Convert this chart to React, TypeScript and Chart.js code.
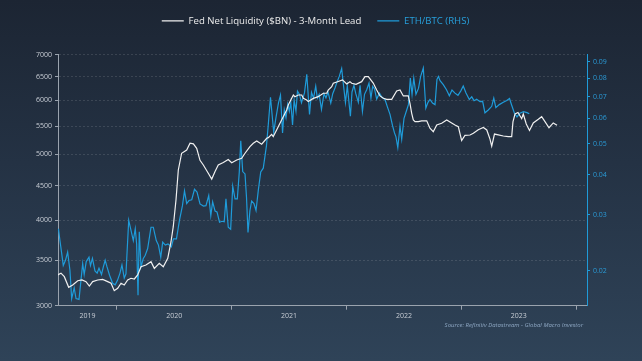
import { useEffect, useRef } from 'react';
import { Chart, registerables } from 'chart.js';

Chart.register(...registerables);

// ---------- DATA ----------
const seriesNames = ['Fed Net Liquidity ($BN) - 3-Month Lead', 'ETH/BTC (RHS)'];
const sourceText = 'Source: Refinitiv Datastream - Global Macro Investor';

const fedYears = [
  2019.484, 2019.513, 2019.542, 2019.580, 2019.615, 2019.659, 2019.696, 2019.731, 2019.760, 2019.789,
  2019.833, 2019.876, 2019.920, 2019.949, 2019.977, 2020.007, 2020.036, 2020.064, 2020.094, 2020.123,
  2020.152, 2020.181, 2020.210, 2020.253, 2020.297, 2020.326, 2020.369, 2020.404, 2020.443, 2020.471,
  2020.491, 2020.515, 2020.535, 2020.564, 2020.608, 2020.637, 2020.666, 2020.695, 2020.724, 2020.753,
  2020.796, 2020.826, 2020.855, 2020.883, 2020.927, 2020.970, 2021.000, 2021.044, 2021.087, 2021.116,
  2021.159, 2021.188, 2021.218, 2021.261, 2021.305, 2021.319, 2021.348, 2021.362, 2021.399, 2021.449,
  2021.479, 2021.493, 2021.537, 2021.551, 2021.580, 2021.610, 2021.624, 2021.653, 2021.667, 2021.711,
  2021.754, 2021.798, 2021.828, 2021.841, 2021.871, 2021.885, 2021.922, 2021.965, 2022.002, 2022.030,
  2022.045, 2022.083, 2022.132, 2022.161, 2022.190, 2022.233, 2022.263, 2022.292, 2022.321, 2022.350,
  2022.394, 2022.437, 2022.466, 2022.495, 2022.538, 2022.553, 2022.568, 2022.582, 2022.597, 2022.625,
  2022.655, 2022.699, 2022.727, 2022.756, 2022.786, 2022.829, 2022.873, 2022.916, 2022.945, 2022.974,
  2023.003, 2023.032, 2023.076, 2023.105, 2023.148, 2023.192, 2023.222, 2023.250, 2023.265, 2023.289,
  2023.322, 2023.366, 2023.409, 2023.439, 2023.450, 2023.468, 2023.494, 2023.526, 2023.540, 2023.566,
  2023.594, 2023.627, 2023.671, 2023.700, 2023.729, 2023.764, 2023.801, 2023.834,
];
const fedValues = [
  3328, 3348, 3309, 3192, 3217, 3264, 3272, 3254, 3206, 3254,
  3272, 3279, 3254, 3236, 3156, 3182, 3236, 3217, 3272, 3291,
  3283, 3328, 3422, 3442, 3480, 3403, 3462, 3422, 3521, 3720,
  3917, 4290, 4743, 5019, 5075, 5191, 5180, 5104, 4900, 4824,
  4691, 4600, 4720, 4824, 4865, 4915, 4860, 4906, 4935, 5019,
  5132, 5191, 5230, 5175, 5279, 5290, 5350, 5310, 5461, 5679,
  5809, 5908, 6110, 6075, 6110, 6110, 6043, 6008, 5975, 6040,
  6075, 6146, 6146, 6214, 6284, 6357, 6390, 6430, 6340, 6391,
  6357, 6335, 6391, 6500, 6500, 6360, 6215, 6090, 6043, 6020,
  6020, 6195, 6214, 6090, 6090, 5941, 5744, 5616, 5584, 5584,
  5600, 5600, 5461, 5398, 5522, 5554, 5616, 5560, 5522, 5490,
  5240, 5330, 5338, 5369, 5435, 5475, 5429, 5265, 5140, 5355,
  5340, 5320, 5310, 5308, 5580, 5730, 5760, 5640, 5730, 5540,
  5420, 5560, 5630, 5679, 5584, 5470, 5560, 5515,
];

const ethYears = [
  2019.491, 2019.504, 2019.519, 2019.533, 2019.552, 2019.571, 2019.591, 2019.606, 2019.628, 2019.644,
  2019.670, 2019.687, 2019.702, 2019.715, 2019.733, 2019.757, 2019.770, 2019.787, 2019.809, 2019.828,
  2019.844, 2019.866, 2019.882, 2019.898, 2019.914, 2019.936, 2019.963, 2019.985, 2020.005, 2020.027,
  2020.044, 2020.064, 2020.079, 2020.103, 2020.123, 2020.143, 2020.160, 2020.172, 2020.184, 2020.195,
  2020.210, 2020.230, 2020.247, 2020.268, 2020.297, 2020.317, 2020.343, 2020.362, 2020.382, 2020.399,
  2020.422, 2020.445, 2020.474, 2020.493, 2020.519, 2020.545, 2020.571, 2020.589, 2020.608, 2020.628,
  2020.652, 2020.676, 2020.698, 2020.724, 2020.754, 2020.776, 2020.800, 2020.818, 2020.834, 2020.855,
  2020.872, 2020.894, 2020.916, 2020.935, 2020.950, 2020.970, 2020.991, 2021.009, 2021.029, 2021.049,
  2021.066, 2021.079, 2021.096, 2021.116, 2021.129, 2021.142, 2021.159, 2021.174, 2021.194, 2021.212,
  2021.232, 2021.253, 2021.275, 2021.303, 2021.319, 2021.338, 2021.366, 2021.386, 2021.408, 2021.425,
  2021.443, 2021.458, 2021.473, 2021.488, 2021.502, 2021.515, 2021.530, 2021.544, 2021.560, 2021.573,
  2021.591, 2021.608, 2021.634, 2021.654, 2021.678, 2021.695, 2021.713, 2021.732, 2021.746, 2021.762,
  2021.782, 2021.804, 2021.821, 2021.839, 2021.863, 2021.880, 2021.900, 2021.917, 2021.937, 2021.958,
  2021.972, 2021.991, 2022.007, 2022.034, 2022.048, 2022.065, 2022.081, 2022.103, 2022.118, 2022.139,
  2022.157, 2022.176, 2022.196, 2022.213, 2022.228, 2022.244, 2022.263, 2022.287, 2022.309, 2022.335,
  2022.357, 2022.379, 2022.401, 2022.418, 2022.431, 2022.447, 2022.466, 2022.481, 2022.501, 2022.521,
  2022.540, 2022.556, 2022.571, 2022.586, 2022.605, 2022.627, 2022.646, 2022.669, 2022.691, 2022.710,
  2022.727, 2022.749, 2022.771, 2022.788, 2022.801, 2022.815, 2022.843, 2022.871, 2022.896, 2022.919,
  2022.945, 2022.971, 2022.996, 2023.017, 2023.041, 2023.070, 2023.091, 2023.111, 2023.134, 2023.163,
  2023.186, 2023.206, 2023.235, 2023.265, 2023.283, 2023.301, 2023.331, 2023.366, 2023.396, 2023.420,
  2023.439, 2023.463, 2023.485, 2023.510, 2023.542, 2023.572, 2023.592,
];
const ethValues = [
  0.0271, 0.0249, 0.0227, 0.0208, 0.0216, 0.0229, 0.0201, 0.0164, 0.0177, 0.0164,
  0.0163, 0.0187, 0.0211, 0.0195, 0.0214, 0.0221, 0.0208, 0.0219, 0.0200, 0.0197,
  0.0204, 0.0195, 0.0206, 0.0216, 0.0206, 0.0194, 0.0183, 0.0181, 0.0187, 0.0197,
  0.0209, 0.0190, 0.0196, 0.0288, 0.0268, 0.0249, 0.0271, 0.0243, 0.0168, 0.0265,
  0.0206, 0.0219, 0.0224, 0.0235, 0.0274, 0.0274, 0.0249, 0.0241, 0.0221, 0.0246,
  0.0241, 0.0243, 0.0238, 0.0252, 0.0252, 0.0288, 0.0320, 0.0356, 0.0325, 0.0332,
  0.0334, 0.0360, 0.0353, 0.0324, 0.0319, 0.0320, 0.0344, 0.0298, 0.0329, 0.0308,
  0.0306, 0.0284, 0.0286, 0.0285, 0.0336, 0.0274, 0.0270, 0.0368, 0.0336, 0.0336,
  0.0407, 0.0510, 0.0409, 0.0402, 0.0340, 0.0264, 0.0309, 0.0331, 0.0325, 0.0309,
  0.0358, 0.0408, 0.0419, 0.0493, 0.0575, 0.0698, 0.0543, 0.0604, 0.0672, 0.0709,
  0.0540, 0.0638, 0.0602, 0.0664, 0.0631, 0.0674, 0.0572, 0.0684, 0.0631, 0.0729,
  0.0712, 0.0671, 0.0720, 0.0823, 0.0617, 0.0723, 0.0693, 0.0756, 0.0693, 0.0713,
  0.0640, 0.0716, 0.0695, 0.0725, 0.0669, 0.0716, 0.0746, 0.0778, 0.0811, 0.0858,
  0.0772, 0.0672, 0.0757, 0.0609, 0.0725, 0.0760, 0.0716, 0.0674, 0.0760, 0.0631,
  0.0713, 0.0737, 0.0773, 0.0694, 0.0755, 0.0741, 0.0689, 0.0719, 0.0698, 0.0687,
  0.0650, 0.0617, 0.0569, 0.0540, 0.0525, 0.0486, 0.0567, 0.0516, 0.0600, 0.0631,
  0.0663, 0.0801, 0.0712, 0.0801, 0.0713, 0.0744, 0.0811, 0.0861, 0.0645, 0.0673,
  0.0687, 0.0670, 0.0662, 0.0794, 0.0811, 0.0786, 0.0764, 0.0737, 0.0705, 0.0735,
  0.0719, 0.0708, 0.0731, 0.0757, 0.0720, 0.0687, 0.0700, 0.0681, 0.0688, 0.0676,
  0.0678, 0.0624, 0.0637, 0.0654, 0.0694, 0.0648, 0.0662, 0.0673, 0.0682, 0.0692,
  0.0659, 0.0622, 0.0606, 0.0622, 0.0629, 0.0625, 0.0620,
];

const leftTicks = [3000, 3500, 4000, 4500, 5000, 5500, 6000, 6500, 7000];
const rightTicks = [0.02, 0.03, 0.04, 0.05, 0.06, 0.07, 0.08, 0.09];
const yearLabels = [2019, 2020, 2021, 2022, 2023];
const yearBoundaries = [2020, 2021, 2022, 2023, 2024];

const X_MIN = 2019.487;
const X_MAX = 2024.095;
const LEFT_MIN = 3000;
const LEFT_MAX = 7000;
const RIGHT_MIN = 0.01558;
const RIGHT_MAX = 0.0948;

// ---------- STYLE ----------
const FONT = "'Open Sans', 'Noto Sans', sans-serif";
const WHITE = '#f0f0f0';
const BLUE = '#1f9bd9';
const AXIS_GREY = '#9aa3ae';
const TICK_TEXT = '#c8cdd5';

const labelPositions = yearLabels.map((y) => (Math.max(y, X_MIN) + Math.min(y + 1, X_MAX)) / 2);
const xLabelMap = new Map<number, string>();
labelPositions.forEach((p, i) => xLabelMap.set(p, String(yearLabels[i])));
const xTickValues = [...labelPositions, ...yearBoundaries].sort((a, b) => a - b);

const legendSpacing = {
  id: 'legendSpacing',
  beforeInit(chart: any) {
    const lg = chart.legend;
    if (!lg) return;
    const orig = lg.fit;
    lg.fit = function () {
      orig.call(this);
      this.height = 54.7;
    };
  },
};

const sourceNote = {
  id: 'sourceNote',
  afterDraw(chart: any) {
    const { ctx } = chart;
    ctx.save();
    ctx.font = `italic 6px ${FONT}`;
    ctx.fillStyle = '#8ea7c3';
    ctx.textAlign = 'right';
    ctx.textBaseline = 'middle';
    ctx.fillText(sourceText, 583, 325);
    ctx.restore();
  },
};

export default function App() {
  const ref = useRef<HTMLCanvasElement>(null);

  useEffect(() => {
    const canvas = ref.current;
    if (!canvas) return;
    const chart = new Chart(canvas, {
      type: 'line',
      data: {
        datasets: [
          {
            label: seriesNames[0],
            data: fedYears.map((x, i) => ({ x, y: fedValues[i] })),
            borderColor: WHITE,
            backgroundColor: WHITE,
            borderWidth: 1.2,
            pointRadius: 0,
            tension: 0,
            yAxisID: 'y',
          },
          {
            label: seriesNames[1],
            data: ethYears.map((x, i) => ({ x, y: ethValues[i] })),
            borderColor: BLUE,
            backgroundColor: BLUE,
            borderWidth: 1.2,
            pointRadius: 0,
            tension: 0,
            yAxisID: 'y1',
          },
        ],
      },
      options: {
        responsive: false,
        animation: false,
        devicePixelRatio: 1,
        layout: { padding: { left: 0, right: 11, top: 0, bottom: 35 } },
        plugins: {
          tooltip: { enabled: false },
          legend: {
            position: 'top',
            align: 'center',
            labels: {
              usePointStyle: true,
              pointStyle: 'line',
              pointStyleWidth: 22,
              padding: 16,
              color: '#ececec',
              font: { family: FONT, size: 9.6 },
              generateLabels(chart: any) {
                const items = Chart.defaults.plugins.legend.labels.generateLabels(chart);
                return items.map((it: any, i: number) => ({
                  ...it,
                  pointStyle: 'line',
                  lineWidth: 1.2,
                  fontColor: i === 0 ? '#ececec' : '#27a0dc',
                }));
              },
            },
          },
        },
        scales: {
          x: {
            type: 'linear',
            min: X_MIN,
            max: X_MAX,
            afterBuildTicks: (s: any) => {
              s.ticks = xTickValues.map((v) => ({ value: v }));
            },
            afterFit: (s: any) => {
              s.height = 20.3;
            },
            ticks: {
              autoSkip: false,
              maxRotation: 0,
              color: TICK_TEXT,
              padding: 2,
              font: { family: FONT, size: 7 },
              callback: (v: any) => xLabelMap.get(v) ?? '',
            },
            grid: {
              drawOnChartArea: false,
              drawTicks: true,
              tickLength: 4,
              tickColor: (c: any) =>
                c.tick && yearBoundaries.includes(c.tick.value) ? AXIS_GREY : 'rgba(0,0,0,0)',
            },
            border: { color: AXIS_GREY, width: 1 },
          },
          y: {
            type: 'logarithmic',
            position: 'left',
            min: LEFT_MIN,
            max: LEFT_MAX,
            afterBuildTicks: (s: any) => {
              s.ticks = leftTicks.map((v) => ({ value: v }));
            },
            afterFit: (s: any) => {
              s.width = 58;
            },
            ticks: {
              color: TICK_TEXT,
              padding: 3,
              font: { family: FONT, size: 7 },
              callback: (v: any) => String(v),
            },
            grid: {
              color: 'rgba(255,255,255,0.12)',
              drawTicks: true,
              tickLength: 3,
              tickColor: AXIS_GREY,
            },
            border: { color: AXIS_GREY, width: 1, dash: [2, 2] },
          },
          y1: {
            type: 'logarithmic',
            position: 'right',
            min: RIGHT_MIN,
            max: RIGHT_MAX,
            afterBuildTicks: (s: any) => {
              s.ticks = rightTicks.map((v) => ({ value: v }));
            },
            afterFit: (s: any) => {
              s.width = 44;
            },
            ticks: {
              color: '#2a9ad6',
              padding: 3,
              font: { family: FONT, size: 7 },
              callback: (v: any) => Number(v).toFixed(2),
            },
            grid: {
              drawOnChartArea: false,
              drawTicks: true,
              tickLength: 3,
              tickColor: BLUE,
            },
            border: { color: BLUE, width: 1 },
          },
        },
      },
      plugins: [legendSpacing, sourceNote],
    } as any);
    return () => chart.destroy();
  }, []);

  return (
    <div
      style={{
        position: 'fixed',
        left: 0,
        top: 0,
        width: 642,
        height: 361,
        background: 'linear-gradient(180deg, #1c2533 0%, #243244 45%, #2f4358 100%)',
      }}
    >
      <canvas ref={ref} width={642} height={361} style={{ display: 'block', width: 642, height: 361 }} />
    </div>
  );
}
